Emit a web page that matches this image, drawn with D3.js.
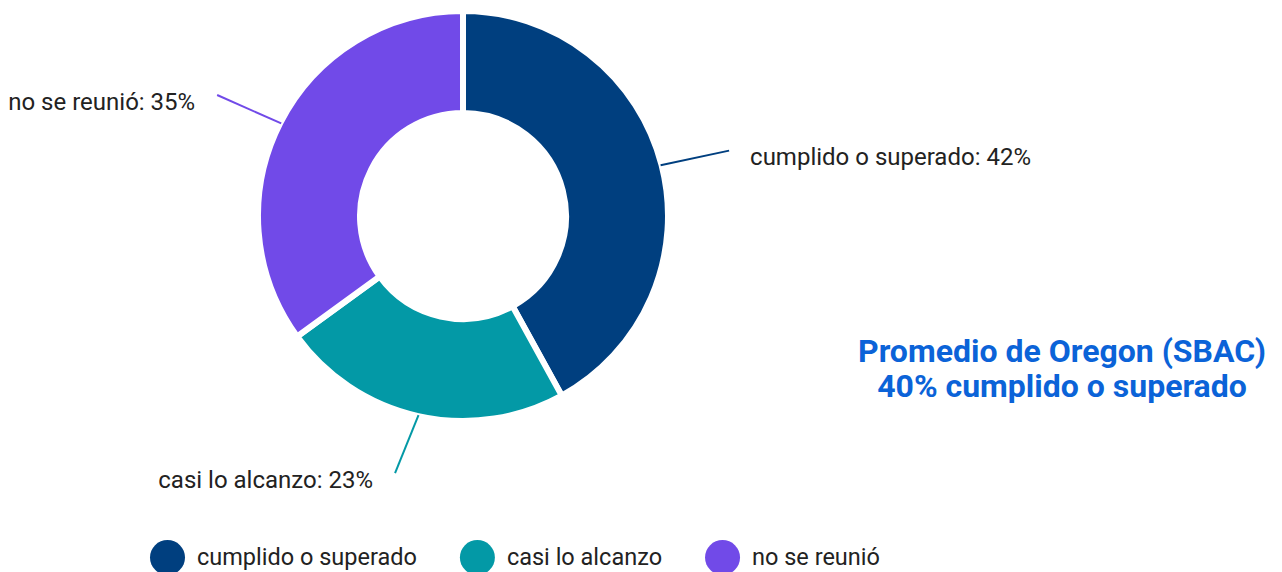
<!DOCTYPE html>
<html>
<head>
<meta charset="utf-8">
<script src="https://cdn.jsdelivr.net/npm/d3@7"></script>
<style>
  html, body { margin: 0; padding: 0; background: #fff; }
  svg { display: block; }
  text { font-family: Roboto, "Noto Sans", sans-serif; }
</style>
</head>
<body>
<svg id="chart" width="1282" height="572"></svg>
<script>
// ---- data ----
const categories = ["cumplido o superado", "casi lo alcanzo", "no se reunió"];
const values = [42, 23, 35];
const colors = ["#003f7f", "#0399a6", "#714ae8"];
const noteLines = ["Promedio de Oregon (SBAC)", "40% cumplido o superado"];

// ---- layout ----
const W = 1282, H = 572;
const cx = 463, cy = 216;
const outerR = 205, innerR = 103;
// leader-line end: angle offset (degrees) from slice middle, radius
const leaderEnds = [[0.6, 274], [2.2, 266], [-0.8, 274]];
const svg = d3.select("#chart");

const data = categories.map((c, i) => ({ cat: c, value: values[i], color: colors[i], idx: i }));
const pie = d3.pie().value(d => d.value).sort(null);
const arcs = pie(data);
const arc = d3.arc().innerRadius(innerR).outerRadius(outerR);

const g = svg.append("g").attr("transform", `translate(${cx},${cy})`);
g.selectAll("path.slice")
  .data(arcs)
  .join("path")
  .attr("class", "slice")
  .attr("d", arc)
  .attr("fill", d => d.data.color)
  .attr("stroke", "#fff")
  .attr("stroke-width", 6)
  .attr("stroke-linejoin", "miter");

// leader lines + labels
arcs.forEach(a => {
  const m = (a.startAngle + a.endAngle) / 2;
  const [off, r1] = leaderEnds[a.data.idx];
  const m1 = m + off * Math.PI / 180;
  const p0 = [Math.sin(m) * 204, -Math.cos(m) * 204];
  const p1 = [Math.sin(m1) * r1, -Math.cos(m1) * r1];
  g.append("line")
    .attr("x1", p0[0]).attr("y1", p0[1])
    .attr("x2", p1[0]).attr("y2", p1[1])
    .attr("stroke", a.data.color)
    .attr("stroke-width", 2);
  const right = p1[0] > 0;
  g.append("text")
    .attr("x", p1[0] + (right ? 21 : -22))
    .attr("y", p1[1] + 14.5)
    .attr("text-anchor", right ? "start" : "end")
    .attr("font-size", 24)
    .attr("fill", "#222")
    .text(`${a.data.cat}: ${a.data.value}%`);
});

// note
const note = svg.append("text")
  .attr("x", 1062)
  .attr("text-anchor", "middle")
  .attr("font-size", 32)
  .attr("font-weight", "bold")
  .attr("fill", "#0b63d8");
noteLines.forEach((t, i) => {
  note.append("tspan").attr("x", 1062).attr("y", 361.5 + i * 35).text(t);
});

// legend
const legend = svg.append("g").attr("transform", "translate(0,557.5)");
let lx = 150;
categories.forEach((c, i) => {
  const item = legend.append("g").attr("transform", `translate(${lx},0)`);
  item.append("circle").attr("cx", 17.5).attr("cy", 0).attr("r", 17.5).attr("fill", colors[i]);
  const t = item.append("text").attr("x", 47).attr("y", 7)
    .attr("font-size", 23.5).attr("fill", "#222").text(c);
  const w = t.node().getComputedTextLength();
  lx += 47 + w + 43;
});
</script>
</body>
</html>
